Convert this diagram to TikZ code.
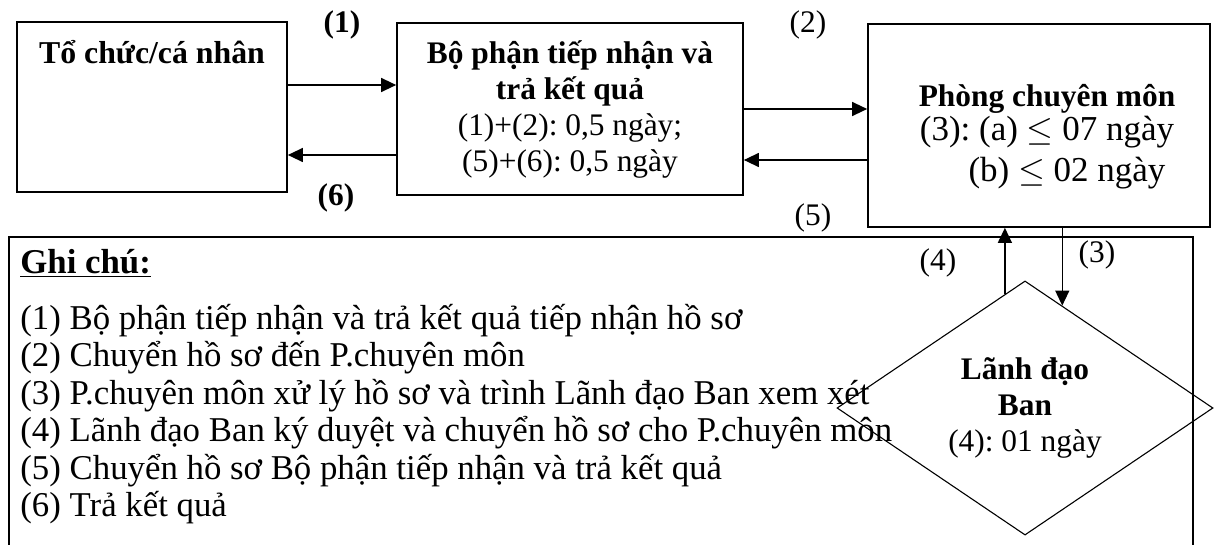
\documentclass[tikz,border=0pt]{standalone}
\usepackage{fontspec}
\setmainfont{Liberation Serif}
\frenchspacing
\usetikzlibrary{shapes.geometric}
\usetikzlibrary{arrows.meta}
\tikzset{
	>={Triangle[length=7.5pt,width=7pt]},
	khoi/.style={
		rectangle, 
		draw=black, line width=0.85pt,
		align=center,
		inner sep=0pt},
	lanhdao/.style={
		diamond,
		draw=black, line width=0.55pt,
		align=center,
		inner sep=0pt,
		minimum width=188pt, 
		minimum height=122pt},
	muiten/.style={draw, line width=0.65pt, ->},
	khung/.style={
		rectangle,
		draw=black, line width=0.85pt,
		anchor=north west},
	nhan/.style={inner sep=0pt},
}

\begin{document}
\begin{tikzpicture}
		[x=0.5pt, y=-0.5pt, font=\fontsize{15.7}{18}\selectfont]
		\useasboundingbox (0,0) rectangle (1214,545);
		\clip (0,0) rectangle (1214,545);
		\node[khoi, minimum width=135pt, minimum height=85pt,
		label={[anchor=center, yshift=-15.5pt, font=\fontsize{15.9}{18}\selectfont\bfseries]north:Tổ chức/cá nhân}] (tochuc) at (152,107) {};
		\node[khoi, minimum width=173pt, minimum height=86pt] (bophan) at (570,109) {\textbf{Bộ phận tiếp nhận và}\\\textbf{trả kết quả}\\(1)+(2): 0,5 ngày;\\(5)+(6): 0,5 ngày};
		\node[khoi, minimum width=171pt, minimum height=101.5pt,
		label={[anchor=center, align=center, xshift=4pt, yshift=-5.75pt]center:{\textbf{Phòng chuyên môn}\\[-1pt]{\fontsize{17.5}{20}\selectfont (3): (a) $\leq$ 07 ngày}\\[2.5pt]{\fontsize{17.5}{20}\selectfont\hspace*{20pt}(b) $\leq$ 02 ngày}}}] (phong) at (1039,125.5) {};
		\node[khung, minimum width=592pt, minimum height=170pt] (ghichu) at (8,236) {};
		\node[nhan, anchor=north west, align=left, font=\fontsize{17.4}{18.7}\selectfont] (dsghichu) at (20,249) {\underline{\textbf{Ghi chú:}}\\[9.3pt]
		(1) Bộ phận tiếp nhận và trả kết quả tiếp nhận hồ sơ\\
		(2) Chuyển hồ sơ đến P.chuyên môn\\
		(3) P.chuyên môn xử lý hồ sơ và trình Lãnh đạo Ban xem xét\\
		(4) Lãnh đạo Ban ký duyệt và chuyển hồ sơ cho P.chuyên môn\\
		(5) Chuyển hồ sơ Bộ phận tiếp nhận và trả kết quả\\
		(6) Trả kết quả};
		\node[lanhdao] (ban) at (1025,408) {\textbf{Lãnh đạo}\\\textbf{Ban}\\(4): 01 ngày};
		
		\coordinate (di1) at ([yshift=11pt]tochuc.east);
		\coordinate (ve6) at ([yshift=-24pt]tochuc.east);
		\coordinate (ve5) at ([yshift=-25.5pt]bophan.east);
		\draw[muiten] (di1) -- (di1 -| bophan.west);
		\draw[muiten] (ve6 -| bophan.west) -- (ve6);
		\draw[muiten] (bophan.east) -- (bophan.east -| phong.west);
		\draw[muiten] (ve5 -| phong.west) -- (ve5);
		\draw[muiten] (phong.south -| ban.70) -- (ban.70);
		\draw[muiten] (ban.100) -- (ban.100 |- phong.south);
		
		\node[nhan, font=\fontsize{15.7}{18}\selectfont\bfseries] (b1) at (342,25) {(1)};
		\node[nhan, font=\fontsize{15.7}{18}\selectfont\bfseries] (b6) at (336,198) {(6)};
		\node[nhan] (b2) at (808,25) {(2)};
		\node[nhan] (b5) at (813,218) {(5)};
		\node[nhan] (b4) at (938,263) {(4)};
		\node[nhan] (b3) at (1097,255) {(3)};
\end{tikzpicture}
\end{document}
